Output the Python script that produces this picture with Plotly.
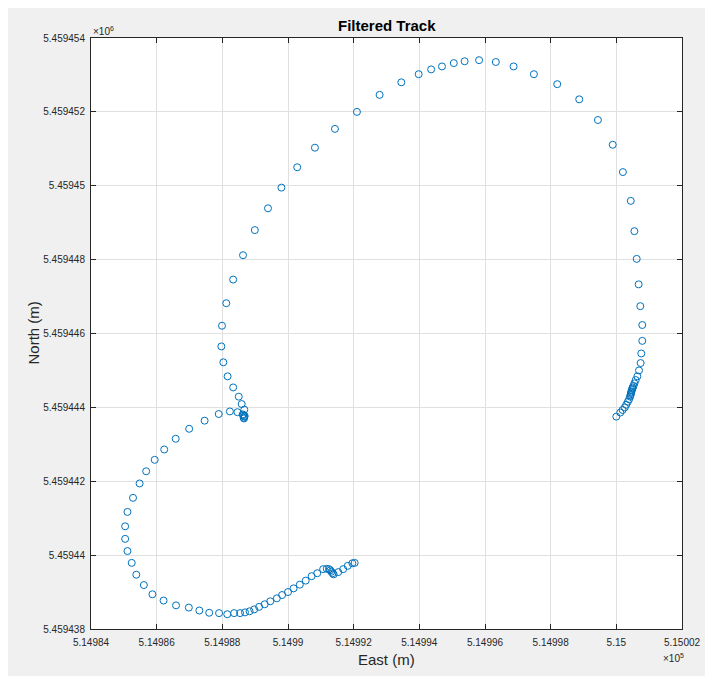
import plotly.graph_objects as go

# Track points (East, North in metres)
east = [
    515000.00, 515000.12, 515000.19, 515000.26, 515000.30, 515000.35, 515000.39, 515000.42,
    515000.43, 515000.44, 515000.45, 515000.46, 515000.47, 515000.49, 515000.50, 515000.52,
    515000.55, 515000.59, 515000.64, 515000.69, 515000.74, 515000.76, 515000.79, 515000.79,
    515000.73, 515000.68, 515000.62, 515000.55, 515000.44, 515000.20, 514999.89, 514999.44,
    514998.87, 514998.20, 514997.49, 514996.87, 514996.33, 514995.82, 514995.38, 514995.05,
    514994.69, 514994.36, 514993.98, 514993.45, 514992.79, 514992.10, 514991.43, 514990.82,
    514990.28, 514989.80, 514989.39, 514988.99, 514988.63, 514988.33, 514988.12, 514987.99,
    514987.97, 514988.03, 514988.16, 514988.33, 514988.50, 514988.59, 514988.67, 514988.62,
    514988.68, 514988.64, 514988.67, 514988.66, 514988.65, 514988.46, 514988.23, 514987.89,
    514987.46, 514986.99, 514986.58, 514986.23, 514985.94, 514985.68, 514985.48, 514985.28,
    514985.11, 514985.04, 514985.04, 514985.11, 514985.24, 514985.38, 514985.61, 514985.87,
    514986.21, 514986.59, 514986.98, 514987.30, 514987.60, 514987.90, 514988.15, 514988.36,
    514988.54, 514988.69, 514988.83, 514988.97, 514989.12, 514989.29, 514989.46, 514989.66,
    514989.82, 514990.00, 514990.17, 514990.36, 514990.54, 514990.72, 514990.89, 514991.07,
    514991.18, 514991.25, 514991.29, 514991.32, 514991.36, 514991.39, 514991.53, 514991.68,
    514991.82, 514991.96, 514992.03,
]
north = [
    5459443.75, 5459443.86, 5459443.93, 5459444.00, 5459444.07, 5459444.15, 5459444.22, 5459444.29,
    5459444.33, 5459444.36, 5459444.40, 5459444.43, 5459444.47, 5459444.51, 5459444.54, 5459444.58,
    5459444.65, 5459444.74, 5459444.84, 5459445.00, 5459445.20, 5459445.46, 5459445.80, 5459446.23,
    5459446.74, 5459447.33, 5459448.02, 5459448.77, 5459449.59, 5459450.37, 5459451.11, 5459451.78,
    5459452.34, 5459452.75, 5459453.02, 5459453.23, 5459453.35, 5459453.40, 5459453.37, 5459453.32,
    5459453.23, 5459453.15, 5459453.02, 5459452.80, 5459452.46, 5459452.00, 5459451.54, 5459451.03,
    5459450.50, 5459449.95, 5459449.39, 5459448.80, 5459448.12, 5459447.46, 5459446.82, 5459446.21,
    5459445.65, 5459445.22, 5459444.84, 5459444.54, 5459444.29, 5459444.09, 5459443.94, 5459443.81,
    5459443.77, 5459443.79, 5459443.75, 5459443.70, 5459443.72, 5459443.87, 5459443.89, 5459443.82,
    5459443.64, 5459443.42, 5459443.15, 5459442.86, 5459442.58, 5459442.27, 5459441.94, 5459441.55,
    5459441.17, 5459440.78, 5459440.44, 5459440.11, 5459439.79, 5459439.47, 5459439.19, 5459438.94,
    5459438.77, 5459438.64, 5459438.58, 5459438.50, 5459438.44, 5459438.43, 5459438.40, 5459438.43,
    5459438.43, 5459438.45, 5459438.48, 5459438.53, 5459438.60, 5459438.67, 5459438.75, 5459438.83,
    5459438.92, 5459439.00, 5459439.10, 5459439.20, 5459439.31, 5459439.43, 5459439.51, 5459439.62,
    5459439.63, 5459439.62, 5459439.59, 5459439.55, 5459439.51, 5459439.48, 5459439.54, 5459439.62,
    5459439.71, 5459439.78, 5459439.79,
]

x_tickvals = [514984, 514986, 514988, 514990, 514992, 514994, 514996, 514998, 515000, 515002]
x_ticktext = ["5.14984", "5.14986", "5.14988", "5.1499", "5.14992", "5.14994",
              "5.14996", "5.14998", "5.15", "5.15002"]
y_tickvals = [5459438, 5459440, 5459442, 5459444, 5459446, 5459448, 5459450, 5459452, 5459454]
y_ticktext = ["5.459438", "5.45944", "5.459442", "5.459444", "5.459446",
              "5.459448", "5.45945", "5.459452", "5.459454"]

FONT = "Liberation Sans, Arial, Helvetica, sans-serif"
AX = "#262626"
GRID = "#E0E0E0"

fig = go.Figure()
fig.add_trace(go.Scatter(
    x=east, y=north, mode="markers",
    marker=dict(symbol="circle-open", size=7, color="#0072BD", line=dict(width=1, color="#0072BD")),
    showlegend=False, hoverinfo="x+y",
))

axis_common = dict(
    showline=True, linecolor=AX, linewidth=1, mirror="ticks",
    ticks="inside", ticklen=5, tickcolor=AX, tickwidth=1,
    showgrid=True, gridcolor=GRID, gridwidth=1, zeroline=False,
    tickfont=dict(family=FONT, size=10, color=AX),
)

fig.update_xaxes(range=[514984, 515002], tickmode="array", tickvals=x_tickvals,
                 ticktext=x_ticktext, ticklabelstandoff=4, **axis_common)
fig.update_yaxes(range=[5459438, 5459454], tickmode="array", tickvals=y_tickvals,
                 ticktext=y_ticktext, ticklabelstandoff=3, **axis_common)

annotations = [
    dict(text="<b>Filtered Track</b>", x=0.5, y=1, xref="paper", yref="paper",
         xanchor="center", yanchor="bottom", yshift=2, showarrow=False,
         font=dict(family=FONT, size=15, color="#000000")),
    dict(text="East (m)", x=0.5, y=0, xref="paper", yref="paper",
         xanchor="center", yanchor="top", yshift=-20, showarrow=False,
         font=dict(family=FONT, size=15, color=AX)),
    dict(text="North (m)", x=0, y=0.5, xref="paper", yref="paper", textangle=-90,
         xanchor="center", yanchor="middle", xshift=-58, showarrow=False,
         font=dict(family=FONT, size=15, color=AX)),
    dict(text="×10<sup>6</sup>", x=0, y=1, xref="paper", yref="paper",
         xanchor="left", yanchor="bottom", yshift=-1, showarrow=False,
         font=dict(family=FONT, size=10, color=AX)),
    dict(text="×10<sup>5</sup>", x=1, y=0, xref="paper", yref="paper",
         xanchor="right", yanchor="top", xshift=4, yshift=-21, showarrow=False,
         font=dict(family=FONT, size=10, color=AX)),
]

# the page body adds an 8px margin, so the figure itself starts at (8, 8)
W, H = 705, 668
L, R, T, B = 83, 31, 30, 47

fig.update_layout(
    width=W, height=H,
    margin=dict(l=L, r=R, t=T, b=B, pad=0),
    paper_bgcolor="#F0F0F0", plot_bgcolor="white",
    annotations=annotations,
    font=dict(family=FONT, color=AX),
)

fig.write_html("out.html")
